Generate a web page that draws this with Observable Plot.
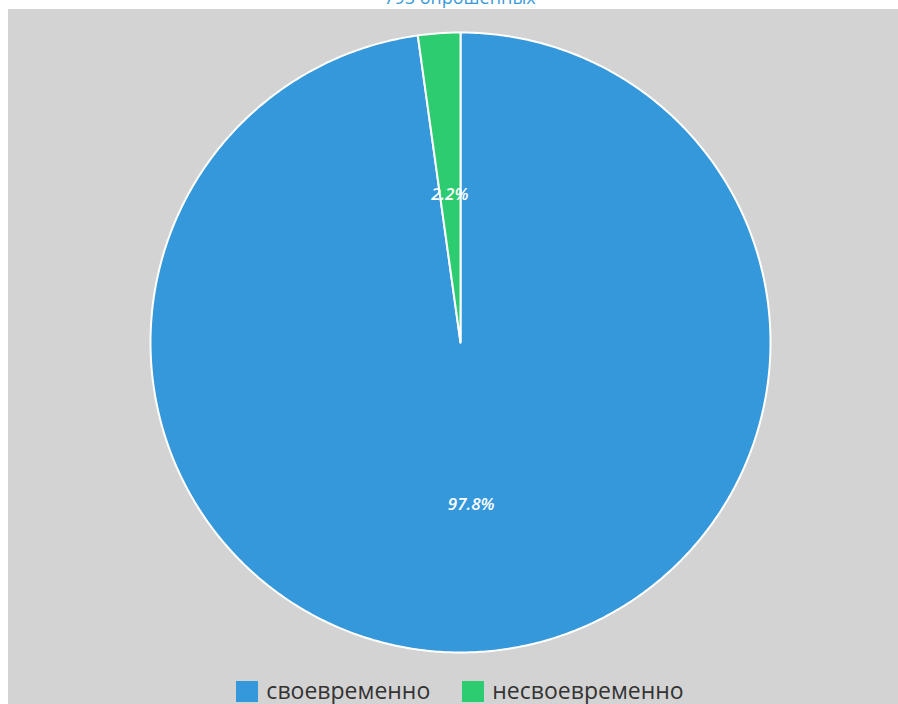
<!DOCTYPE html>
<html>
<head>
<meta charset="utf-8">
<script src="https://cdn.jsdelivr.net/npm/d3@7"></script>
<script src="https://cdn.jsdelivr.net/npm/@observablehq/plot@0.6"></script>
<style>
  html, body { margin: 0; padding: 0; background: #ffffff; width: 898px; height: 704px; overflow: hidden; font-family: "Open Sans", sans-serif; }
  #title { position: absolute; left: 0; width: 920px; top: -12px; text-align: center; font-size: 18px; line-height: 18px; color: #3a9ad9; }
  #panel { position: absolute; left: 8px; top: 9px; width: 890px; height: 695px; background: #d3d3d3; overflow: hidden; }
  #chart { position: absolute; left: 0; top: 0; }
  #legend { position: absolute; left: -8px; width: 920px; top: 670px; display: flex; justify-content: center; align-items: center; font-size: 23px; line-height: 23px; color: #333; }
  .item { display: flex; align-items: center; margin: 0 16px; }
  .sw { width: 22px; height: 21px; margin-right: 8px; margin-top: 2px; }
</style>
</head>
<body>
<div id="title">793 опрошенных</div>
<div id="panel">
  <div id="chart"></div>
  <div id="legend"></div>
</div>
<script>
const categories = ["своевременно", "несвоевременно"];
const values = [97.8, 2.2];
const colors = ["#3498db", "#2ecc71"];
const labels = ["97.8%", "2.2%"];

const data = categories.map((c, i) => ({cat: c, value: values[i], label: labels[i]}));
const arcs = d3.pie().sort(null).value(d => d.value).startAngle(0).endAngle(2 * Math.PI)(data);

// polygon vertices for each slice in unit-circle coordinates
const pts = [];
for (const a of arcs) {
  pts.push({cat: a.data.cat, x: 0, y: 0});
  const n = Math.max(2, Math.ceil((a.endAngle - a.startAngle) / (Math.PI / 360)));
  for (let k = 0; k <= n; k++) {
    const t = a.startAngle + (a.endAngle - a.startAngle) * k / n;
    pts.push({cat: a.data.cat, x: Math.sin(t), y: Math.cos(t)});
  }
}
const lab = arcs.map(a => {
  const m = (a.startAngle + a.endAngle) / 2;
  return {x: 0.5 * Math.sin(m), y: 0.5 * Math.cos(m), text: a.data.label};
});

const R = 310;
const plot = Plot.plot({
  width: 890,
  height: 666,
  marginLeft: 452 - R,
  marginRight: 890 - 452 - R,
  marginTop: 333 - R,
  marginBottom: 666 - 333 - R,
  x: {domain: [-1, 1], axis: null},
  y: {domain: [-1, 1], axis: null},
  color: {domain: categories, range: colors},
  style: {background: "transparent", fontFamily: "Open Sans, sans-serif"},
  marks: [
    Plot.line(pts, {x: "x", y: "y", z: "cat", fill: "cat", stroke: "white", strokeWidth: 2, curve: "linear-closed", strokeLinejoin: "round"}),
    Plot.text(lab, {x: "x", y: "y", text: "text", fill: "white", fontSize: 17, fontWeight: 600, fontStyle: "italic", dy: 7})
  ]
});
document.getElementById("chart").appendChild(plot);

const legend = document.getElementById("legend");
categories.forEach((c, i) => {
  const it = document.createElement("div");
  it.className = "item";
  const sw = document.createElement("div");
  sw.className = "sw";
  sw.style.background = colors[i];
  const tx = document.createElement("span");
  tx.textContent = c;
  it.appendChild(sw);
  it.appendChild(tx);
  legend.appendChild(it);
});
</script>
</body>
</html>
